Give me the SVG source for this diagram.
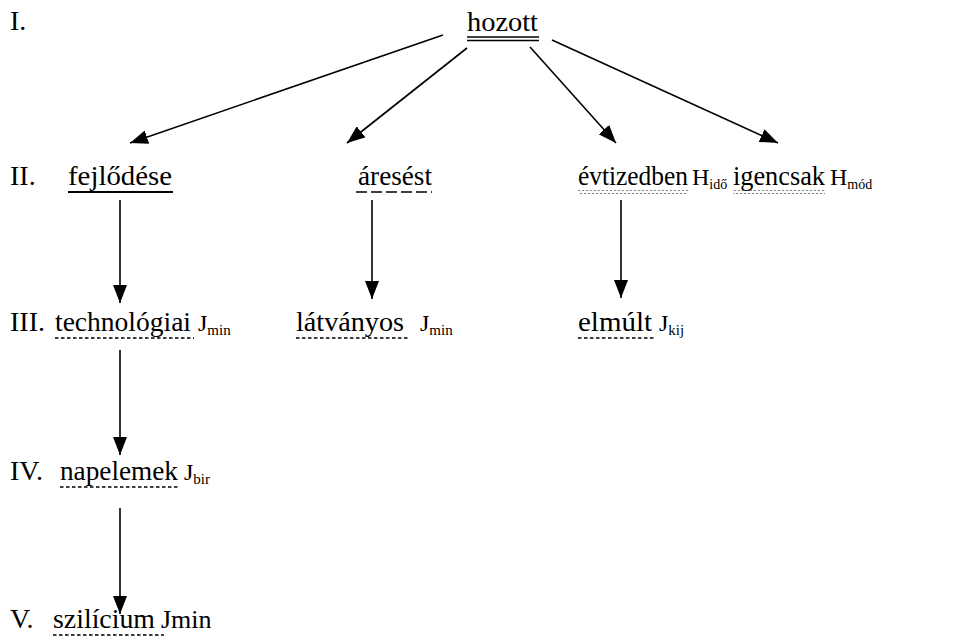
<svg xmlns="http://www.w3.org/2000/svg" width="956" height="644" viewBox="0 0 956 644">
  <defs>
    <!-- filled arrowhead shared by every connector -->
    <marker id="head" viewBox="0 0 18 14" refX="18" refY="7" markerWidth="18" markerHeight="14" markerUnits="userSpaceOnUse" orient="auto">
      <path d="M0,0 L18,7 L0,14 z" fill="#000"/>
    </marker>
    <!-- wavy underline tile -->
    <pattern id="wave" width="4" height="4" patternUnits="userSpaceOnUse">
      <path d="M0,2 Q1,0.5 2,2 T4,2" stroke="#555" stroke-width="0.8" fill="none"/>
    </pattern>
  </defs>

  <!-- level labels -->
  <g id="levels" fill="#000">
    <text x="10" y="30" font-family="Liberation Serif, Times New Roman, serif" style="font-family:'Liberation Serif','Times New Roman',serif !important" font-size="28">I.</text>
    <text x="10" y="185" font-family="Liberation Serif, Times New Roman, serif" style="font-family:'Liberation Serif','Times New Roman',serif !important" font-size="28">II.</text>
    <text x="10" y="331" font-family="Liberation Serif, Times New Roman, serif" style="font-family:'Liberation Serif','Times New Roman',serif !important" font-size="28">III.</text>
    <text x="10" y="480" font-family="Liberation Serif, Times New Roman, serif" style="font-family:'Liberation Serif','Times New Roman',serif !important" font-size="28">IV.</text>
    <text x="10" y="628" font-family="Liberation Serif, Times New Roman, serif" style="font-family:'Liberation Serif','Times New Roman',serif !important" font-size="28">V.</text>
  </g>

  <g id="hozott">
    <text x="467" y="31" font-family="Liberation Serif, Times New Roman, serif" style="font-family:'Liberation Serif','Times New Roman',serif !important" font-size="28" textLength="71" lengthAdjust="spacingAndGlyphs">hozott</text>
    <line x1="467" y1="37" x2="539" y2="37" stroke="#000" stroke-width="1.3"/>
    <line x1="467" y1="40.5" x2="539" y2="40.5" stroke="#000" stroke-width="1.3"/>
  </g>

  <g id="fejlodese">
    <text x="68" y="185" font-family="Liberation Serif, Times New Roman, serif" style="font-family:'Liberation Serif','Times New Roman',serif !important" font-size="28" textLength="104" lengthAdjust="spacingAndGlyphs">fejlődése</text>
    <line x1="68" y1="192" x2="173" y2="192" stroke="#000" stroke-width="2.2"/>
  </g>

  <g id="areseset">
    <text x="358" y="185" font-family="Liberation Serif, Times New Roman, serif" style="font-family:'Liberation Serif','Times New Roman',serif !important" font-size="28" textLength="74" lengthAdjust="spacingAndGlyphs">áresést</text>
    <line x1="356" y1="192" x2="432" y2="192" stroke="#000" stroke-width="1.5" stroke-dasharray="11 4"/>
  </g>

  <g id="evtizedben">
    <text x="578" y="185" font-family="Liberation Serif, Times New Roman, serif" style="font-family:'Liberation Serif','Times New Roman',serif !important" font-size="28" textLength="110" lengthAdjust="spacingAndGlyphs">évtizedben</text>
    <text x="692" y="185" font-family="Liberation Serif, Times New Roman, serif" style="font-family:'Liberation Serif','Times New Roman',serif !important" font-size="24">H<tspan font-size="14" dy="4">idő</tspan></text>
    <rect x="578" y="190" width="110" height="4" fill="url(#wave)"/>
  </g>

  <g id="igencsak">
    <text x="733" y="185" font-family="Liberation Serif, Times New Roman, serif" style="font-family:'Liberation Serif','Times New Roman',serif !important" font-size="28" textLength="92" lengthAdjust="spacingAndGlyphs">igencsak</text>
    <text x="830" y="185" font-family="Liberation Serif, Times New Roman, serif" style="font-family:'Liberation Serif','Times New Roman',serif !important" font-size="24">H<tspan font-size="14" dy="4">mód</tspan></text>
    <rect x="733" y="190" width="92" height="4" fill="url(#wave)"/>
  </g>

  <g id="technologiai">
    <text x="55" y="331" font-family="Liberation Serif, Times New Roman, serif" style="font-family:'Liberation Serif','Times New Roman',serif !important" font-size="28" textLength="136" lengthAdjust="spacingAndGlyphs">technológiai</text>
    <text x="198" y="331" font-family="Liberation Serif, Times New Roman, serif" style="font-family:'Liberation Serif','Times New Roman',serif !important" font-size="24">J<tspan font-size="15" dy="4">min</tspan></text>
    <line x1="55" y1="338" x2="194" y2="338" stroke="#000" stroke-width="1.3" stroke-dasharray="3.5 2.5"/>
  </g>

  <g id="latvanyos">
    <text x="296" y="331" font-family="Liberation Serif, Times New Roman, serif" style="font-family:'Liberation Serif','Times New Roman',serif !important" font-size="28" textLength="108" lengthAdjust="spacingAndGlyphs">látványos</text>
    <text x="420" y="331" font-family="Liberation Serif, Times New Roman, serif" style="font-family:'Liberation Serif','Times New Roman',serif !important" font-size="24">J<tspan font-size="15" dy="4">min</tspan></text>
    <line x1="296" y1="338" x2="410" y2="338" stroke="#000" stroke-width="1.3" stroke-dasharray="3.5 2.5"/>
  </g>

  <g id="elmult">
    <text x="578" y="331" font-family="Liberation Serif, Times New Roman, serif" style="font-family:'Liberation Serif','Times New Roman',serif !important" font-size="28" textLength="74" lengthAdjust="spacingAndGlyphs">elmúlt</text>
    <text x="659" y="331" font-family="Liberation Serif, Times New Roman, serif" style="font-family:'Liberation Serif','Times New Roman',serif !important" font-size="24">J<tspan font-size="15" dy="4">kij</tspan></text>
    <line x1="578" y1="338" x2="655" y2="338" stroke="#000" stroke-width="1.3" stroke-dasharray="3.5 2.5"/>
  </g>

  <g id="napelemek">
    <text x="60" y="480" font-family="Liberation Serif, Times New Roman, serif" style="font-family:'Liberation Serif','Times New Roman',serif !important" font-size="28" textLength="118" lengthAdjust="spacingAndGlyphs">napelemek</text>
    <text x="184" y="480" font-family="Liberation Serif, Times New Roman, serif" style="font-family:'Liberation Serif','Times New Roman',serif !important" font-size="24">J<tspan font-size="15" dy="4">bir</tspan></text>
    <line x1="60" y1="487" x2="180" y2="487" stroke="#000" stroke-width="1.3" stroke-dasharray="3.5 2.5"/>
  </g>

  <g id="szilicium">
    <text x="53" y="628" font-family="Liberation Serif, Times New Roman, serif" style="font-family:'Liberation Serif','Times New Roman',serif !important" font-size="28" textLength="102" lengthAdjust="spacingAndGlyphs">szilícium</text>
    <text x="161" y="628" font-family="Liberation Serif, Times New Roman, serif" style="font-family:'Liberation Serif','Times New Roman',serif !important" font-size="26">Jmin</text>
    <line x1="53" y1="635" x2="164" y2="635" stroke="#000" stroke-width="1.3" stroke-dasharray="3.5 2.5"/>
  </g>

  <g id="connectors" stroke="#000" stroke-width="1.6" fill="none" marker-end="url(#head)">
    <line x1="443" y1="35" x2="130" y2="143"/>
    <line x1="467" y1="48" x2="347" y2="143"/>
    <line x1="530" y1="47" x2="616" y2="143"/>
    <line x1="552" y1="40" x2="778" y2="143"/>
    <line x1="120" y1="200" x2="120" y2="303"/>
    <line x1="372" y1="200" x2="372" y2="299"/>
    <line x1="621" y1="200" x2="621" y2="298"/>
    <line x1="120" y1="350" x2="120" y2="455"/>
    <line x1="120" y1="508" x2="120" y2="614"/>
  </g>
</svg>
